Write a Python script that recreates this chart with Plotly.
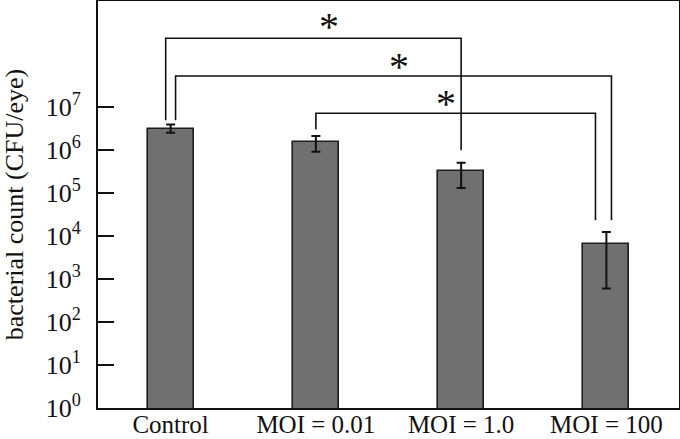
import plotly.graph_objects as go

categories = ["Control", "MOI = 0.01", "MOI = 1.0", "MOI = 100"]
counts = [3.0e6, 1.5e6, 3.2e5, 6.5e3]
err_plus = [0.9e6, 0.6e6, 1.8e5, 5.8e3]
err_minus = [0.5e6, 0.6e6, 1.9e5, 5.9e3]

tick_exponents = [0, 1, 2, 3, 4, 5, 6, 7]
tick_labels = ["10<sup>%d</sup>" % e for e in tick_exponents]

# significance brackets: (from category, to category)
bracket_pairs = [(0, 2), (0, 3), (1, 3)]
bracket_tops = [3.93e8, 5.2e7, 7.1e6]
bracket_left_ends = [4.9e6, 4.9e6, 3.0e6]
bracket_right_ends = [9.8e5, 2.3e4, 2.3e4]
bracket_left_off = [-0.034, 0.034, 0.0]
bracket_right_off = [0.0, 0.035, -0.075]
star_x = [1.09, 1.571, 1.895]
star_y = [8.95, 8.02, 7.18]  # log10 positions
star_labels = ["*", "*", "*"]

FONT = "Liberation Serif, Times New Roman, serif"

fig = go.Figure()
x_pos = list(range(len(categories)))
fig.add_trace(go.Bar(
    x=x_pos, y=counts, width=0.317,
    marker=dict(color="#707070", line=dict(color="#1e1e1e", width=1.6)),
    error_y=dict(type="data", array=err_plus, arrayminus=err_minus,
                 color="#111111", thickness=2, width=4.5),
    showlegend=False,
))

for (a, b), top, le, re, lo, ro in zip(bracket_pairs, bracket_tops, bracket_left_ends,
                                      bracket_right_ends, bracket_left_off, bracket_right_off):
    fig.add_trace(go.Scatter(
        x=[a + lo, a + lo, b + ro, b + ro],
        y=[le, top, top, re],
        mode="lines", line=dict(color="#111111", width=1.6),
        showlegend=False, hoverinfo="skip",
    ))

for sx, sy, st in zip(star_x, star_y, star_labels):
    fig.add_annotation(x=sx, y=sy, text=st, showarrow=False,
                       font=dict(family=FONT, size=40, color="#111111"),
                       xanchor="center", yanchor="middle", yshift=-4)

fig.update_layout(
    width=680, height=439,
    margin=dict(l=98, r=1, t=1, b=31),
    plot_bgcolor="white", paper_bgcolor="white",
    font=dict(family=FONT, size=26, color="#111111"),
    bargap=0,
)
fig.update_xaxes(
    range=[-0.5, 3.5], tickvals=x_pos, ticktext=categories,
    showgrid=False, zeroline=False, showline=True, linecolor="#111111",
    linewidth=2, mirror=True, ticks="", tickfont=dict(size=25),
    automargin=False, ticklabelstandoff=-7,
)
fig.update_yaxes(
    type="log", range=[0, 9.46], tickvals=[10 ** e for e in tick_exponents],
    ticktext=tick_labels, showgrid=False, zeroline=False, showline=True,
    linecolor="#111111", linewidth=2, mirror=True, ticks="inside",
    ticklen=16, tickwidth=2, tickcolor="#111111", tickfont=dict(size=26),
    ticklabelstandoff=10, automargin=False,
    title=dict(text="bacterial count (CFU/eye)", font=dict(size=26), standoff=17),
)

fig.write_html("out.html", config={"displayModeBar": False},
               post_script="document.body.style.margin='0px';")
